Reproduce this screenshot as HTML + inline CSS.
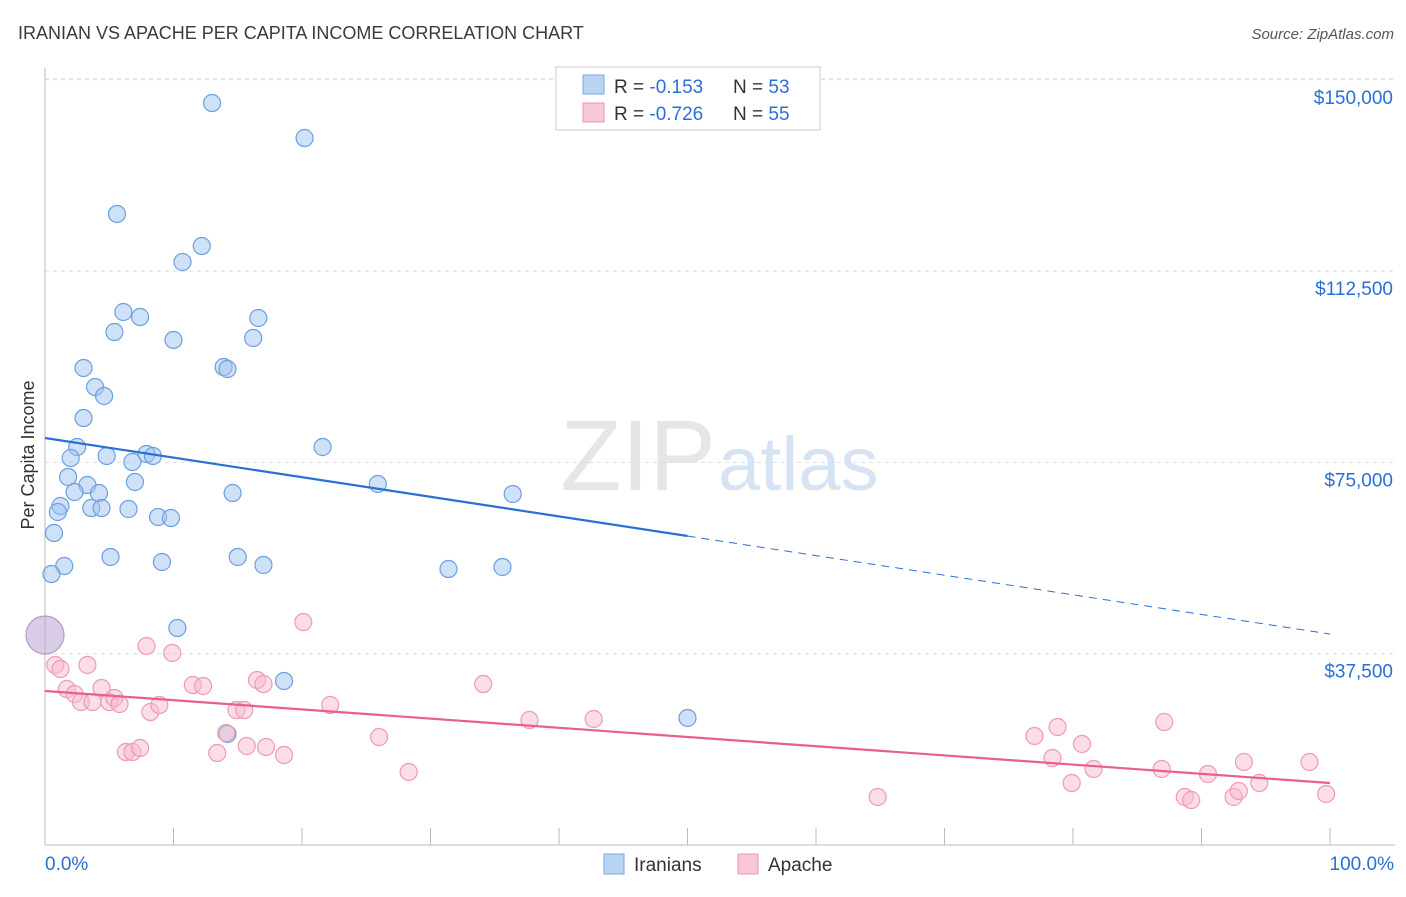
<!DOCTYPE html>
<html><head><meta charset="utf-8"><style>
body{margin:0;background:#fff;font-family:"Liberation Sans",sans-serif;}
svg text{font-family:"Liberation Sans",sans-serif;}
</style></head><body>
<svg id="chart" width="1406" height="892" viewBox="0 0 1406 892">
<text x="18" y="39" font-size="18" fill="#3a3a3a">IRANIAN VS APACHE PER CAPITA INCOME CORRELATION CHART</text>
<text x="1394" y="39" font-size="15" fill="#555" text-anchor="end" font-style="italic">Source: ZipAtlas.com</text>
<text x="716" y="490" font-size="100" fill="#e6e6e6" text-anchor="end" font-family="Liberation Serif">ZIP</text>
<text x="718" y="490" font-size="76" fill="#d5e3f3">atlas</text>
<g id="grid"></g>
<g id="axes"></g>
<g id="marks"></g>
<text x="34" y="455" font-size="18" fill="#333" text-anchor="middle" transform="rotate(-90 34 455)">Per Capita Income</text>
<g>
<rect x="556" y="67" width="264" height="63" fill="#fff" stroke="#ccc"/>
<rect x="583" y="75" width="21" height="19" fill="#b9d3f3" stroke="#7aa7e0"/>
<rect x="583" y="103" width="21" height="19" fill="#f9c8d6" stroke="#ec94ae"/>
<text x="614" y="93" font-size="19" fill="#333">R = <tspan fill="#2a6fd6">-0.153</tspan><tspan x="733">N = </tspan><tspan fill="#2a6fd6">53</tspan></text>
<text x="614" y="120" font-size="19" fill="#333">R = <tspan fill="#2a6fd6">-0.726</tspan><tspan x="733">N = </tspan><tspan fill="#2a6fd6">55</tspan></text>
</g>
<g>
<rect x="604" y="854" width="20" height="20" fill="#b9d3f3" stroke="#7aa7e0"/>
<text x="634" y="871" font-size="19" fill="#333">Iranians</text>
<rect x="738" y="854" width="20" height="20" fill="#f9c8d6" stroke="#ec94ae"/>
<text x="768" y="871" font-size="19" fill="#333">Apache</text>
</g>
</svg>
<script>
const yTicks=[37500,75000,112500,150000];
const yTickLabels=["$37,500","$75,000","$112,500","$150,000"];
const xTickLabels=["0.0%","100.0%"];
const iraniansX=[13.0,20.2,5.6,12.2,10.7,6.1,7.4,16.6,5.4,10.0,16.2,3.0,13.9,14.2,3.9,4.6,3.0,2.5,21.6,2.0,4.8,7.9,8.4,6.8,1.8,7.0,3.3,25.9,2.3,4.2,14.6,36.4,1.2,1.0,3.6,4.4,6.5,8.8,9.8,0.7,5.1,9.1,15.0,17.0,1.5,31.4,35.6,0.5,10.3,18.6,14.2,50.0];
const iraniansY=[145450,138590,123700,117420,114290,104480,103500,103310,100560,99000,99390,93510,93700,93310,89780,88020,83700,78020,78020,75860,76260,76650,76260,75080,72140,71160,70570,70770,69200,69000,69000,68810,66450,65280,66060,66060,65870,64300,64100,61160,56460,55480,56460,54890,54690,54100,54500,53120,42540,32150,21760,24900];
const apacheX=[0.8,1.2,3.3,1.7,2.3,4.4,2.8,3.7,5.0,5.4,5.8,7.9,9.9,8.2,8.9,11.5,12.3,6.3,6.8,7.4,13.4,14.1,14.9,15.5,15.7,17.2,18.6,16.5,17.0,20.1,22.2,26.0,28.3,34.1,37.7,42.7,64.8,77.0,78.8,78.4,79.9,80.7,81.6,86.9,87.1,88.7,89.2,90.5,92.5,92.9,93.3,94.5,98.4,99.7];
const apacheY=[35290,34500,35290,30580,29600,30780,28030,28030,28030,28820,27640,39010,37640,26070,27440,31360,31170,18230,18230,19010,18030,21960,26460,26460,19410,19210,17640,32340,31560,43710,27440,21170,14310,31560,24500,24700,9410,21370,23130,17050,12150,19800,14900,14900,24110,9410,8820,13920,9410,10590,16270,12150,16270,10000];
const bigX=[0.0], bigY=[41170];
const blueTrend=[79780,41360];
const pinkTrend=[30190,12150];
const blueSolidEnd=50;

const NS="http://www.w3.org/2000/svg";
const xS=v=>45+v*12.85;
const yS=v=>845-v/196.03;
function mk(tag,attrs,parent){const e=document.createElementNS(NS,tag);for(const k in attrs)e.setAttribute(k,attrs[k]);parent.appendChild(e);return e;}
const gridG=document.getElementById('grid'),axesG=document.getElementById('axes'),marksG=document.getElementById('marks');
yTicks.forEach((t,i)=>{
 const l=mk('line',{x1:45,x2:1395,y1:yS(t),y2:yS(t),stroke:'#ddd','stroke-dasharray':'4 4'},gridG);
 
 
 const tx=mk('text',{x:1393,y:yS(t)+24,'font-size':19,fill:'#2a6fd6','text-anchor':'end'},axesG);
 tx.textContent=yTickLabels[i];
 
 
});
const topGrid=mk('line',{x1:45,x2:1395,y1:79,y2:79,stroke:'#ddd','stroke-dasharray':'4 4'},gridG);


mk('line',{x1:45,x2:45,y1:68,y2:845,stroke:'#bbb'},axesG);
mk('line',{x1:45,x2:1395,y1:845,y2:845,stroke:'#bbb'},axesG);
for(let i=0;i<=10;i++){const x=xS(i*10);const t=mk('line',{x1:x,x2:x,y1:828,y2:845,stroke:'#bbb'},axesG);
 
 }
const xl0=mk('text',{x:45,y:870,'font-size':19,fill:'#2a6fd6'},axesG);xl0.textContent=xTickLabels[0];


const xl1=mk('text',{x:1394,y:870,'font-size':19,fill:'#2a6fd6','text-anchor':'end'},axesG);xl1.textContent=xTickLabels[1];


iraniansX.forEach((v,i)=>{const c=mk('circle',{cx:xS(v),cy:yS(iraniansY[i]),r:8.5,fill:'rgba(160,196,240,0.5)',stroke:'#6b9fe0','stroke-width':1.2},marksG);
 
 });
apacheX.forEach((v,i)=>{const c=mk('circle',{cx:xS(v),cy:yS(apacheY[i]),r:8.5,fill:'rgba(248,188,206,0.5)',stroke:'#ee9ab3','stroke-width':1.2},marksG);
 
 });
bigX.forEach((v,i)=>{const c=mk('circle',{cx:xS(v),cy:yS(bigY[i]),r:19,fill:'rgba(190,170,215,0.6)',stroke:'#b59ac8','stroke-width':1.2},marksG);
 
 });
const bAt=p=>blueTrend[0]+(blueTrend[1]-blueTrend[0])*p/100;
const pAt=p=>pinkTrend[0]+(pinkTrend[1]-pinkTrend[0])*p/100;
const bl=mk('line',{x1:xS(0),y1:yS(bAt(0)),x2:xS(blueSolidEnd),y2:yS(bAt(blueSolidEnd)),stroke:'#2a6fd6','stroke-width':2.2},marksG);


const bd=mk('line',{x1:xS(blueSolidEnd),y1:yS(bAt(blueSolidEnd)),x2:xS(100),y2:yS(bAt(100)),stroke:'#2a6fd6','stroke-width':1,'stroke-dasharray':'8 6'},marksG);


const pl=mk('line',{x1:xS(0),y1:yS(pAt(0)),x2:xS(100),y2:yS(pAt(100)),stroke:'#e8608a','stroke-width':2.2},marksG);


</script>
</body></html>
